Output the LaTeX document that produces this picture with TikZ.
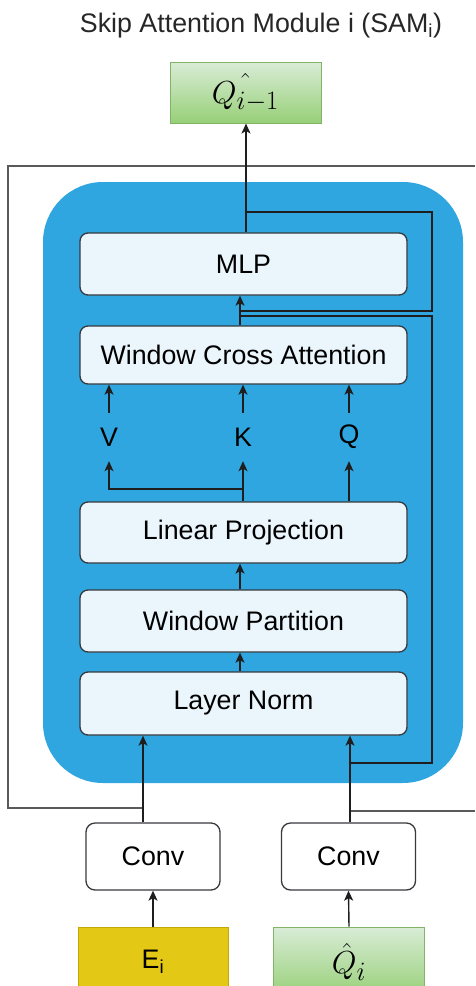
\documentclass[tikz,border=0pt]{standalone}
\usepackage{graphicx}
\usepackage{fontspec}
\setmainfont{Liberation Sans}
\usetikzlibrary{arrows.meta,calc}

\definecolor{panel}{HTML}{2FA6E0}
\definecolor{boxfill}{HTML}{EAF5FC}
\definecolor{boxedge}{HTML}{36393D}
\definecolor{wirecol}{HTML}{1E1E1E}
\definecolor{framecol}{HTML}{5A5A5A}
\definecolor{gtop}{HTML}{D9ECD7}
\definecolor{gbot}{HTML}{97D077}
\definecolor{gedge}{HTML}{82B366}
\definecolor{yfill}{HTML}{E3C916}
\definecolor{yedge}{HTML}{C2A800}

% math symbols set at the largest design size, then enlarged
\newcommand{\bigmath}[1]{\scalebox{1.28}{\fontsize{24.88}{30}\selectfont$#1$}}

\begin{document}
\begin{tikzpicture}[x=1pt,y=-1pt,
  font=\fontsize{26.8}{32}\selectfont,
  block/.style={draw=boxedge, fill=boxfill, line width=1.3pt, rounded corners=8pt,
    minimum width=327pt, inner sep=0pt},
  convbox/.style={draw=boxedge, fill=white, line width=1.3pt, rounded corners=9pt,
    minimum width=134pt, minimum height=67pt, inner sep=0pt},
  greenbox/.style={draw=gedge, top color=gtop, bottom color=gbot, line width=1pt,
    minimum width=151pt, inner sep=0pt},
  yellowbox/.style={draw=yedge, fill=yfill, line width=1pt,
    minimum width=150pt, minimum height=70pt, inner sep=0pt},
  lbl/.style={minimum height=48pt, inner sep=0pt},
  wire/.style={draw=wirecol, line width=1.4pt},
  arr/.style={wire, -{Stealth[length=10pt,width=9pt,inset=2.5pt]}},
  framewire/.style={draw=framecol, line width=1.5pt}
]
\useasboundingbox (0,0) rectangle (475,986);
\clip (0,0) rectangle (475,986);

% title
\node[anchor=base, text=black!85] (title) at (261,32) {Skip Attention Module i (SAM\textsubscript{i})};

% output query
\node[greenbox, minimum height=61pt] (qout) at (245.5,92.5) {\bigmath{\hat{Q_{i-1}}}};

% outer skip frame
\coordinate (fa) at (143,808);
\coordinate (fb) at (8,808);
\coordinate (fc) at (8,166);
\coordinate (fd) at (475,166);
\coordinate (fe) at (350,811);
\coordinate (ff) at (475,811);
\draw[framewire] (fa) -- (fb) -- (fc) -- (fd);
\draw[framewire] (fe) -- (ff);

% blue module panel
\fill[panel, rounded corners=60pt] (43,182) rectangle (463,783);

% blocks inside the module
\node[block, minimum height=62pt] (mlp) at (243.5,264) {MLP};
\node[block, minimum height=58pt] (wca) at (243.5,355) {Window Cross Attention};
\node[block, minimum height=61pt] (lp)  at (243.5,532.5) {Linear Projection};
\node[block, minimum height=62pt] (wp)  at (243.5,621) {Window Partition};
\node[block, minimum height=63pt] (ln)  at (243.5,703.5) {Layer Norm};

% V, K, Q labels
\node[lbl] (V) at (109,437) {V};
\node[lbl] (K) at (243,437) {K};
\node[lbl] (Q) at (349,437) {Q};

% inputs
\node[convbox] (convL) at (153,856.5) {Conv};
\node[convbox] (convR) at (348.5,856.5) {Conv};
\node[yellowbox] (ei) at (153,962) {E\textsubscript{i}};
\node[greenbox, minimum height=70pt] (qi) at (349,962) {\bigmath{\hat{Q}_i}};

% main flow
\coordinate (outx) at ([xshift=2.5pt]mlp.north);
\coordinate (mx) at ([xshift=-3.5pt]mlp.south);
\draw[arr] (outx) -- (outx |- qout.south);
\draw[arr] (mx |- wca.north) -- (mx);
\draw[arr] (mx |- wp.north) -- (mx |- lp.south);
\draw[arr] (mx |- ln.north) -- (mx |- wp.south);

\draw[arr] (V.north) -- (V.north |- wca.south);
\draw[arr] (K.north) -- (K.north |- wca.south);
\draw[arr] (Q.north) -- (Q.north |- wca.south);
\draw[arr] (K.south |- lp.north) -- (K.south);
\coordinate (vk) at (243,489);
\draw[arr] (vk) -| (V.south);
\draw[arr] (Q.south |- lp.north) -- (Q.south);

% input connections
\coordinate (inL) at ([xshift=-10pt]convL.north);
\coordinate (inR) at ([xshift=1.5pt]convR.north);
\draw[arr] (inL) -- (inL |- ln.south);
\draw[arr] (inR) -- (inR |- ln.south);
\draw[arr] (ei.north) -- (convL.south);
\draw[arr] (qi.north) -- (convR.south);

% residual paths
\coordinate (ska) at (246,212);
\coordinate (skb) at (432,212);
\coordinate (skc) at (432,311);
\coordinate (skd) at (240,311);
\draw[wire] (ska) -- (skb) -- (skc) -- (skd);
\coordinate (sma) at (240,316);
\coordinate (smb) at (432,316);
\coordinate (smc) at (432,763);
\coordinate (smd) at (350,763);
\draw[wire] (sma) -- (smb) -- (smc) -- (smd);
\end{tikzpicture}
\end{document}
